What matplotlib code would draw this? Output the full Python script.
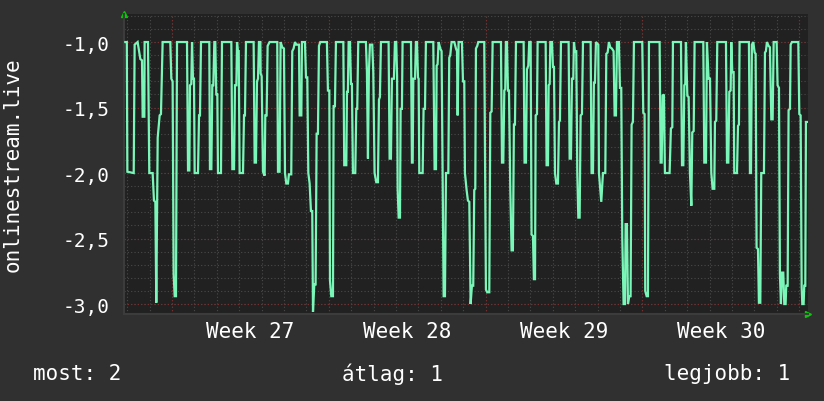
import matplotlib
matplotlib.use("Agg")
import matplotlib.pyplot as plt
import numpy as np

# hours since the left edge of the graph, and the value there
hours = [1.4, 3.0, 3.6, 10.4, 11.4, 14.6, 15.7, 17.5, 19.3, 20.0, 21.8, 22.1, 25.7, 27.1, 30.7,
         32.1, 33.6, 34.6, 36.1, 38.2, 39.6, 41.4, 49.6, 50.7, 52.1, 53.2, 54.3, 55.7, 56.8,
         67.5, 68.6, 70.0, 70.7, 72.1, 72.9, 73.9, 75.0, 75.7, 79.3, 80.4, 81.4, 82.5, 91.4,
         92.1, 93.6, 94.6, 95.7, 96.8, 97.8, 98.9, 100.0, 100.7, 103.9, 105.0, 115.0, 116.1,
         117.9, 118.9, 120.4, 121.1, 122.1, 122.9, 123.9, 127.5, 128.6, 129.6, 130.7, 138.9,
         140.0, 141.4, 142.5, 143.6, 144.6, 146.1,
         146.4, 147.5, 148.9, 150.7, 151.4, 152.8, 153.9, 156.0, 164.2, 165.0, 166.7, 167.8,
         169.6, 171.4, 172.5, 173.9, 175.7, 176.7, 179.2, 180.3, 181.7, 183.2, 184.6, 187.5,
         188.2, 190.0, 190.7, 193.9, 195.0, 196.4, 197.5, 198.9, 200.3, 201.7, 202.5, 203.9,
         205.3, 206.4, 207.8, 208.9, 210.3, 217.4, 218.5, 220.0, 220.7, 222.1, 223.9, 224.6,
         226.0, 227.1, 235.0, 236.0, 238.2, 238.9, 239.9, 240.7, 242.1, 243.2, 244.2, 245.3,
         247.8, 248.9, 249.9, 251.0, 259.2, 260.3, 261.4, 262.4, 263.5, 266.0, 267.1, 268.5,
         270.3, 272.1, 273.2, 274.2, 275.3, 283.5, 284.6, 286.0, 287.1, 289.2, 290.3, 291.7,
         292.6, 293.2, 294.3, 295.7, 296.4, 297.8, 298.5,
         307.5, 308.5, 309.3, 310.0, 311.8, 312.8, 313.9, 315.0, 315.7, 316.4, 320.0, 321.0,
         322.5, 323.5, 331.4, 332.8, 334.3, 335.0, 336.0, 337.1, 338.9, 340.3, 341.4, 342.5,
         343.9, 345.0, 347.5, 348.5, 349.6, 351.0, 353.9, 355.7, 356.8, 357.5, 358.5, 362.1,
         363.2, 364.6, 365.3, 367.1, 368.5, 370.0, 371.4, 372.8, 374.2, 375.3, 376.4, 377.1,
         378.5, 379.6, 386.0, 387.8, 389.2, 391.4, 392.5, 393.9, 395.0, 403.9, 405.0, 406.4,
         407.5, 408.5, 409.2, 410.3, 411.4, 412.5, 413.9, 415.3, 416.7, 417.8, 418.9, 420.0,
         428.2, 429.2, 430.7, 431.7, 433.2, 434.2, 435.7, 436.7, 438.2, 439.2, 440.4, 441.1,
         442.5, 443.2,
         451.8, 452.8, 454.3, 455.0, 456.1, 456.8, 458.6, 459.6, 460.7, 461.8, 463.2, 465.0,
         466.1, 467.1, 468.2, 476.4, 477.5, 478.9, 480.0, 481.4, 482.1, 483.2, 484.6, 485.7,
         486.8, 488.2, 489.3, 490.7, 491.8, 500.0, 501.0, 502.5, 503.5, 504.6, 505.7, 508.2,
         508.9, 511.4, 513.2, 515.7, 516.8, 518.2, 519.6, 521.0, 522.8, 524.6, 525.7, 527.1,
         528.2, 530.3, 531.4, 532.8, 533.9, 535.3, 536.8, 537.5, 538.9, 540.0, 541.4, 542.8,
         543.9, 545.3, 546.4, 555.3, 556.4, 557.8, 558.5, 560.0, 561.4, 562.5, 573.9, 575.0,
         576.1, 577.1, 578.5, 579.6, 584.6, 586.0, 587.5, 588.2,
         596.8, 597.9, 599.3, 600.4, 601.4, 602.1, 603.6, 605.0, 606.4, 607.9, 608.9, 610.4,
         611.4, 620.7, 621.8, 623.6, 624.6, 626.4, 627.9, 629.3, 630.7, 632.5, 633.2, 634.6,
         635.7, 645.0, 646.1, 647.5, 648.6, 650.0, 650.7, 651.8, 653.2, 653.9, 656.8, 657.9,
         658.9, 659.6, 669.6, 670.7, 671.8, 672.8, 674.3, 675.7, 676.8, 677.8, 679.3, 680.3,
         681.8, 682.8, 685.7, 686.8, 687.8, 688.9, 690.7, 692.1, 693.6, 695.0, 696.1, 699.3,
         700.3, 701.8, 702.8, 703.9, 705.0, 706.4, 707.5, 708.9, 709.6, 711.1, 712.1, 713.6,
         714.3, 715.7, 722.5, 723.6, 725.0, 726.1, 726.8, 728.2, 728.9, 730.0, 730.7, 732.1]

values = [-1.00, -1.00, -1.99, -2.00, -1.02, -1.00, -1.05, -1.13, -1.14, -1.57, -1.57, -1.00, -1.00, -2.00, -2.00,
          -2.21, -2.22, -2.99, -1.73, -1.56, -1.55, -1.00, -1.00, -1.28, -1.30, -2.77, -2.94, -2.94, -1.00,
          -1.00, -1.98, -1.98, -1.33, -1.32, -1.00, -1.28, -1.28, -2.00, -2.00, -1.56, -1.56, -1.00, -1.00,
          -1.97, -1.97, -1.33, -1.33, -1.00, -1.00, -1.40, -1.40, -2.00, -2.00, -1.00, -1.00, -1.97,
          -1.97, -1.33, -1.33, -1.00, -1.07, -1.07, -2.00, -2.00, -1.56, -1.56, -1.00, -1.00,
          -1.92, -1.92, -1.30, -1.28, -1.00, -1.00,
          -1.24, -1.26, -1.99, -2.02, -1.56, -1.56, -1.03, -1.00, -1.00, -1.99, -1.99, -1.00,
          -1.04, -1.05, -2.00, -2.08, -2.08, -2.01, -2.01, -1.07, -1.05, -1.00, -1.02, -1.02,
          -1.56, -1.56, -1.00, -1.00, -1.27, -1.27, -2.00, -2.08, -2.29, -2.29, -3.06, -2.85,
          -2.85, -1.70, -1.70, -1.03, -1.00, -1.00, -1.37, -1.37, -2.82, -2.94, -2.94, -1.49,
          -1.49, -1.00, -1.00, -1.94, -1.94, -1.38, -1.38, -1.00, -1.00, -1.32, -1.32, -2.00,
          -2.00, -1.51, -1.51, -1.00, -1.00, -1.23, -1.89, -1.23, -1.02, -1.02, -1.23, -2.00,
          -2.07, -2.07, -1.44, -1.42, -1.00, -1.00, -1.89, -1.89, -1.28, -1.28, -1.00, -1.00,
          -1.26, -2.12, -2.34, -2.34, -1.51, -1.51, -1.00,
          -1.00, -1.92, -1.92, -1.28, -1.28, -1.00, -1.00, -1.27, -1.28, -2.00, -2.00, -1.51,
          -1.51, -1.00, -1.00, -1.97, -1.97, -1.18, -1.17, -1.00, -1.05, -1.07, -2.00, -2.94,
          -2.94, -2.00, -2.00, -1.12, -1.10, -1.00, -1.00, -1.05, -1.07, -1.56, -1.00, -1.00,
          -1.30, -1.30, -2.00, -2.13, -2.21, -2.22, -3.00, -2.86, -2.86, -2.13, -2.12, -1.05,
          -1.03, -1.00, -1.00, -2.89, -2.91, -2.91, -1.54, -1.53, -1.00, -1.00, -1.92, -1.92,
          -1.37, -1.36, -1.00, -1.00, -1.37, -1.37, -2.12, -2.59, -2.59, -1.63, -1.63, -1.00,
          -1.00, -1.92, -1.92, -1.21, -1.18, -1.00, -1.00, -2.47, -2.48, -2.81, -2.81, -1.56,
          -1.55, -1.00,
          -1.00, -1.94, -1.94, -1.33, -1.32, -1.00, -1.00, -1.19, -1.19, -2.00, -2.08, -2.08,
          -1.61, -1.60, -1.00, -1.00, -1.89, -1.89, -1.28, -1.28, -1.00, -1.07, -1.07, -2.00,
          -2.34, -2.34, -1.56, -1.55, -1.00, -1.00, -2.00, -2.00, -1.31, -1.31, -1.00, -1.02,
          -2.00, -2.22, -2.00, -2.00, -1.09, -1.08, -1.00, -1.04, -1.05, -1.07, -1.56, -1.56,
          -1.00, -1.00, -1.35, -1.35, -2.49, -3.00, -3.00, -2.39, -2.39, -3.00, -2.94, -2.94,
          -1.63, -1.61, -1.00, -1.00, -1.54, -1.55, -2.90, -2.94, -2.94, -1.00, -1.00, -1.92,
          -1.92, -1.41, -1.40, -2.00, -2.00, -1.66, -1.65, -1.00,
          -1.00, -1.94, -1.94, -1.33, -1.32, -1.00, -1.41, -1.42, -2.00, -2.25, -1.69, -1.68,
          -1.00, -1.00, -1.92, -1.92, -1.00, -1.28, -1.28, -2.00, -2.12, -2.12, -1.61, -1.60,
          -1.00, -1.00, -1.92, -1.92, -1.38, -1.37, -1.00, -1.23, -1.23, -2.00, -2.00, -1.64,
          -1.63, -1.00, -1.00, -2.00, -2.00, -1.02, -1.00, -1.08, -1.09, -2.57, -2.58, -2.99,
          -2.99, -2.00, -2.00, -1.08, -1.07, -1.00, -1.03, -1.04, -1.59, -1.59, -1.00, -1.00,
          -1.33, -1.35, -2.77, -3.00, -2.76, -2.76, -3.00, -3.00, -2.86, -2.86, -1.52, -1.51,
          -1.02, -1.00, -1.00, -1.55, -1.56, -2.87, -3.00, -3.00, -2.86, -2.86, -1.61, -1.61]

y_ticks = [-3.0, -2.5, -2.0, -1.5, -1.0]
y_tick_labels = ["-3,0", "-2,5", "-2,0", "-1,5", "-1,0"]
week_labels = ["Week 27", "Week 28", "Week 29", "Week 30"]
first_week_start = 51.4   # hour of first week boundary
first_day_start = 3.4
x_end = 732.9
legend_texts = ["most: 2", "átlag: 1", "legjobb: 1"]

bg = "#303030"
canvas = "#212121"
line_col = "#7af7b8"
font = "DejaVu Sans Mono"

fig = plt.figure(figsize=(8.24, 4.02), dpi=100, facecolor=bg)
W, H = 824, 402
ax = fig.add_axes([124 / W, (H - 315) / H, 684 / W, 300 / H])
ax.set_facecolor(canvas)
ax.set_xlim(0, x_end)
ax.set_ylim(-3.076, -0.786)

# minor grid (days, 0.1 steps)
dot = (0, (1, 2))
for d in np.arange(first_day_start, x_end, 24):
    ax.axvline(d, color="#4a4a4a", lw=0.8, ls=dot, zorder=1)
for v in np.arange(-3.0, -0.79, 0.1):
    ax.axhline(v, color="#4a4a4a", lw=0.8, ls=dot, zorder=1)
# major grid (weeks, 0.5 steps)
for w in np.arange(first_week_start, x_end, 168):
    ax.axvline(w, color="#7a2e2e", lw=0.8, ls=dot, zorder=1)
for v in y_ticks:
    ax.axhline(v, color="#7a2e2e", lw=0.8, ls=dot, zorder=1)

ax.plot(hours, values, color=line_col, lw=1.6, zorder=3, solid_joinstyle="miter")

ax.set_yticks(y_ticks)
ax.set_yticklabels(y_tick_labels, fontsize=14, color="white", family=font)
week_centers = [first_week_start + 84 + 168 * i for i in range(len(week_labels))]
ax.set_xticks(week_centers)
ax.set_xticklabels(week_labels, fontsize=15, color="white", family=font)
ax.tick_params(length=0, pad=10)
ax.tick_params(axis="x", pad=5)
for s in ["top", "right"]:
    ax.spines[s].set_visible(False)
for s in ["left", "bottom"]:
    ax.spines[s].set_color("#3c3c3c")
    ax.spines[s].set_linewidth(1.5)

ax.set_ylabel("onlinestream.live", fontsize=15, color="white", family=font)
ax.yaxis.set_label_coords(-101 / 684, 0.5)

# green arrows at the ends of the axes
ax.plot([0], [1.0], transform=ax.transAxes, marker="^", color="#00d000", ms=5, clip_on=False)
ax.plot([1.0], [0], transform=ax.transAxes, marker=">", color="#00d000", ms=5, clip_on=False)

fig.text(33 / W, 1 - 374 / H, legend_texts[0], fontsize=15, color="white", family=font, va="center", ha="left")
fig.text(392 / W, 1 - 374 / H, legend_texts[1], fontsize=15, color="white", family=font, va="center", ha="center")
fig.text(790 / W, 1 - 374 / H, legend_texts[2], fontsize=15, color="white", family=font, va="center", ha="right")

fig.savefig("out.png", dpi=100, facecolor=bg)
